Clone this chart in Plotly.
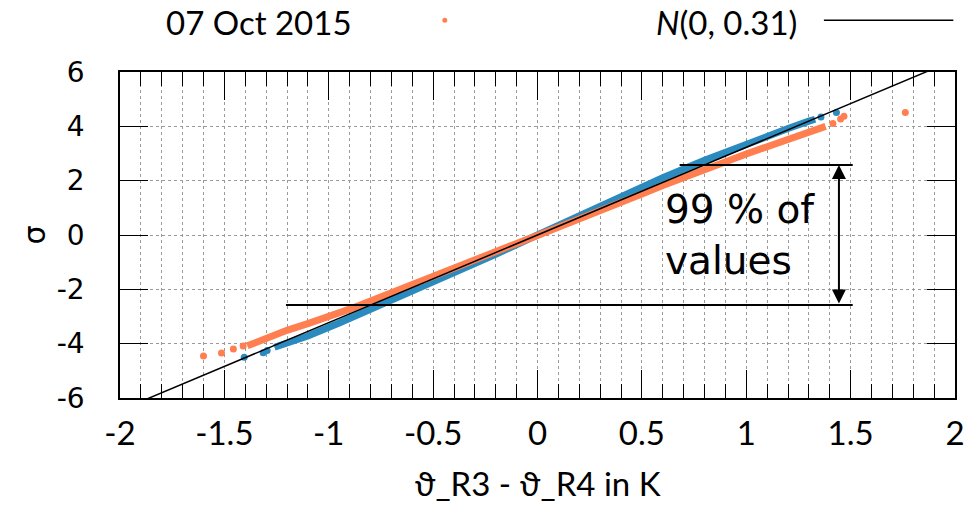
import plotly.graph_objects as go

# ---- data -------------------------------------------------------------
# Normal reference model N(0, SD)
SD = 0.31
REF_X = [-2.0, 2.0]

# Reference series (blue): dense body of the Q-Q curve and isolated tail points
blue_body_x = [-1.26, -1.10, -0.95, -0.80, -0.60, -0.40, -0.20, 0.00, 0.20,
               0.40, 0.60, 0.80, 1.00, 1.10, 1.20, 1.30, 1.33]
blue_body_s = [-4.13, -3.72, -3.24, -2.74, -2.07, -1.39, -0.71, 0.00, 0.72,
               1.42, 2.11, 2.75, 3.36, 3.65, 3.92, 4.19, 4.26]
blue_tail_x = [-1.405, -1.314, -1.295, 1.358, 1.432]
blue_tail_s = [-4.50, -4.33, -4.25, 4.34, 4.51]

# 07 Oct 2015 (orange)
orange_body_x = [-1.39, -1.30, -1.20, -1.10, -1.00, -0.90, -0.80, -0.70, -0.60,
                 -0.50, -0.40, -0.30, -0.20, -0.10, 0.00, 0.10, 0.20, 0.30,
                 0.40, 0.50, 0.60, 0.70, 0.80, 0.90, 1.00, 1.10, 1.20, 1.30, 1.38]
orange_body_s = [-4.08, -3.79, -3.51, -3.26, -3.01, -2.73, -2.43, -2.12, -1.81,
                 -1.50, -1.20, -0.91, -0.61, -0.31, -0.02, 0.30, 0.61, 0.91,
                 1.21, 1.51, 1.82, 2.12, 2.41, 2.69, 2.98, 3.25, 3.51, 3.77, 4.00]
orange_tail_x = [-1.600, -1.514, -1.457, -1.410, 1.415, 1.452, 1.468, 1.762]
orange_tail_s = [-4.45, -4.34, -4.20, -4.09, 4.10, 4.27, 4.37, 4.51]

# 99 % band: z-quantile and the extent of its marker lines
Z99 = 2.576
UPPER_SPAN = [0.681, 1.51]
LOWER_SPAN = [-1.205, 1.51]
ARROW_X = 1.444

# axes
X_TICKS = [-2, -1.5, -1, -0.5, 0, 0.5, 1, 1.5, 2]
X_TICK_TEXT = ["-2", "-1.5", "-1", "-0.5", "0", "0.5", "1", "1.5", "2"]
Y_TICKS = [-6, -4, -2, 0, 2, 4, 6]
Y_TICK_TEXT = ["-6", "-4", "-2", "0", "2", "4", "6"]

BLUE = "#2b8bbf"
ORANGE = "#ff7f50"
GRID = "#9a9a9a"
HUMANIST = "Lato, Open Sans, sans-serif"
DEJAVU = "DejaVu Sans, sans-serif"

fig = go.Figure()

fig.add_trace(go.Scatter(x=blue_body_x, y=blue_body_s, mode="lines",
                         line=dict(color=BLUE, width=7), showlegend=False))
fig.add_trace(go.Scatter(x=blue_tail_x, y=blue_tail_s, mode="markers",
                         marker=dict(color=BLUE, size=7), showlegend=False))
fig.add_trace(go.Scatter(x=orange_body_x, y=orange_body_s, mode="lines",
                         line=dict(color=ORANGE, width=7), showlegend=False))
fig.add_trace(go.Scatter(x=orange_tail_x, y=orange_tail_s, mode="markers",
                         marker=dict(color=ORANGE, size=7), showlegend=False))
fig.add_trace(go.Scatter(x=REF_X, y=[v / SD for v in REF_X], mode="lines",
                         line=dict(color="black", width=1.5), showlegend=False))

# 99 % marker lines and double arrow
for y, span in ((Z99, UPPER_SPAN), (-Z99, LOWER_SPAN)):
    fig.add_shape(type="line", xref="x", yref="y", x0=span[0], x1=span[1],
                  y0=y, y1=y, line=dict(color="black", width=2))
fig.add_annotation(x=ARROW_X, y=Z99, ax=ARROW_X, ay=-Z99, axref="x", ayref="y",
                   xref="x", yref="y", text="", showarrow=True,
                   arrowhead=2, startarrowhead=2, arrowside="end+start",
                   arrowwidth=2, arrowsize=1.4, arrowcolor="black",
                   standoff=0, startstandoff=0)
fig.add_annotation(x=0.6, y=0.0, xref="x", yref="y", text="99 % of<br>values",
                   showarrow=False, xanchor="left", yanchor="middle", align="left",
                   font=dict(family=DEJAVU, size=39, color="black"))

# key above the plot
fig.add_annotation(x=0.2798, y=1.153, xref="paper", yref="paper",
                   text="07 Oct 2015", showarrow=False, xanchor="right",
                   yanchor="middle", font=dict(family=HUMANIST, size=33, color="black"))
fig.add_shape(type="circle", xref="paper", yref="paper", xsizemode="pixel",
              ysizemode="pixel", xanchor=0.389, yanchor=1.159,
              x0=-2.5, x1=2.5, y0=-2.5, y1=2.5, fillcolor=ORANGE,
              line=dict(color=ORANGE, width=0))
fig.add_annotation(x=0.813, y=1.153, xref="paper", yref="paper",
                   text="<i>N</i>(0, 0.31)", showarrow=False, xanchor="right",
                   yanchor="middle", font=dict(family=HUMANIST, size=33, color="black"))
fig.add_shape(type="line", xref="paper", yref="paper", x0=0.843, x1=0.998,
              y0=1.159, y1=1.159, line=dict(color="black", width=1.5))

fig.update_xaxes(
    range=[-2, 2], tickmode="array", tickvals=X_TICKS, ticktext=X_TICK_TEXT,
    ticks="inside", ticklen=28, tickwidth=1.2, tickcolor="black",
    showline=True, linecolor="black", linewidth=1.5, mirror="allticks",
    showgrid=True, gridcolor=GRID, griddash="dot", gridwidth=1, zeroline=False,
    minor=dict(tick0=-2, dtick=0.1, ticks="inside", ticklen=14, tickwidth=1.2,
               tickcolor="black", showgrid=True, gridcolor=GRID, griddash="dot",
               gridwidth=1),
    tickfont=dict(family=HUMANIST, size=33, color="black"), ticklabelstandoff=6,
    title=dict(text="ϑ_R3 - ϑ_R4 in K", font=dict(family=HUMANIST, size=33, color="black"),
               standoff=22),
)
fig.update_yaxes(
    range=[-6, 6], tickmode="array", tickvals=Y_TICKS, ticktext=Y_TICK_TEXT,
    ticks="inside", ticklen=28, tickwidth=1.2, tickcolor="black",
    showline=True, linecolor="black", linewidth=1.5, mirror="allticks",
    showgrid=True, gridcolor=GRID, griddash="dot", gridwidth=1, zeroline=False,
    tickfont=dict(family=DEJAVU, size=28, color="black"), ticklabelstandoff=28,
    title=dict(text="σ", font=dict(family=DEJAVU, size=30, color="black"), standoff=2),
)

fig.update_layout(
    width=977, height=509, margin=dict(l=120, r=17, t=72, b=110),
    plot_bgcolor="white", paper_bgcolor="white", showlegend=False,
)

fig.write_html("out.html")
